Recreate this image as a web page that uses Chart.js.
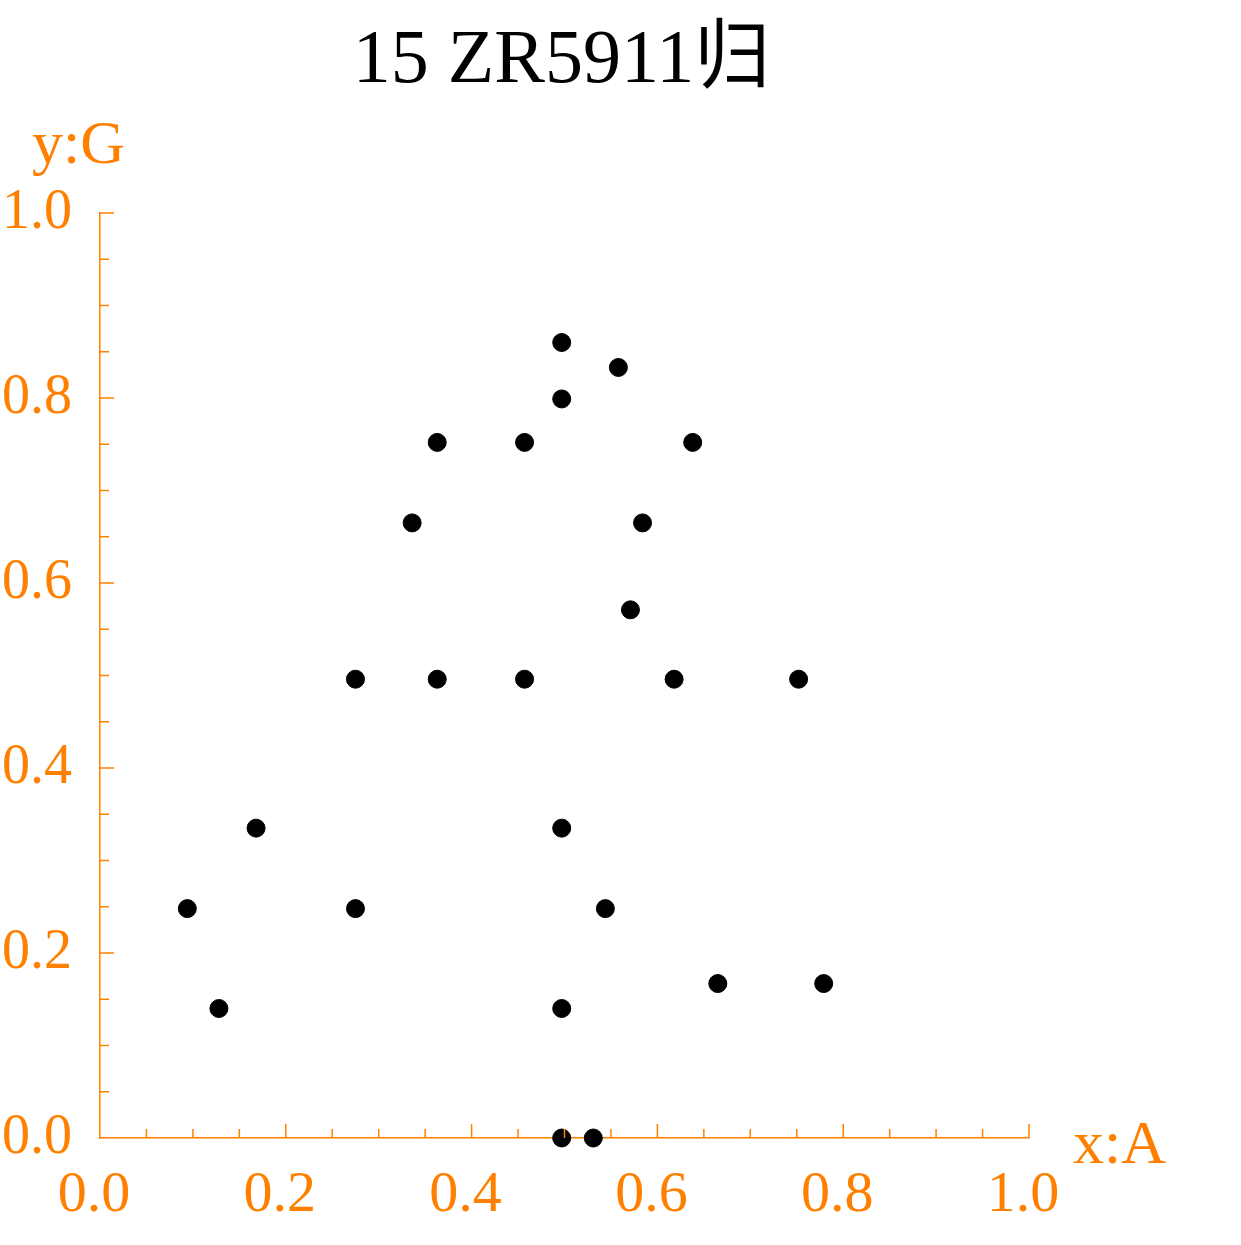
<!DOCTYPE html>
<html>
<head>
<meta charset="utf-8">
<script src="https://cdn.jsdelivr.net/npm/chart.js@4.4.0/dist/chart.umd.min.js"></script>
<style>
  html, body { margin: 0; padding: 0; background: #fff; }
</style>
</head>
<body>
<canvas id="chart" width="1241" height="1245"></canvas>
<script>
const titleText = '15 ZR5911归';
const xLabel = 'x:A';
const yLabel = 'y:G';

// point coordinates
const xValues = [0.497, 0.558, 0.497, 0.457, 0.638, 0.584, 0.363, 0.336, 0.275, 0.363,
                 0.168, 0.571, 0.457, 0.618, 0.752, 0.497, 0.094, 0.275, 0.128, 0.544,
                 0.497, 0.665, 0.779, 0.497, 0.531];
const yValues = [0.860, 0.833, 0.799, 0.752, 0.752, 0.665, 0.752, 0.665, 0.496, 0.496,
                 0.335, 0.571, 0.496, 0.496, 0.496, 0.335, 0.248, 0.248, 0.140, 0.248,
                 0.140, 0.167, 0.167, 0.000, 0.000];

const axisMin = 0;
const axisMax = 1;
const majorStep = 0.2;
const minorStep = 0.05;

const orange = '#ff8000';
const serif = '"Liberation Serif", "Times New Roman", serif';

const points = xValues.map((x, i) => ({ x, y: yValues[i] }));

// inward tick marks, long at 0.2, short at 0.05
const tickMarks = {
    id: 'tickMarks',
    afterDraw(chart) {
        const { ctx, chartArea, scales } = chart;
        const n = Math.round((axisMax - axisMin) / minorStep);
        ctx.save();
        ctx.strokeStyle = orange;
        ctx.lineWidth = 1.5;
        ctx.beginPath();
        for (let i = 1; i <= n; i++) {
            const v = axisMin + i * minorStep;
            const len = i % 4 === 0 ? 14 : 9;
            const px = scales.x.getPixelForValue(v);
            ctx.moveTo(px, chartArea.bottom);
            ctx.lineTo(px, chartArea.bottom - len);
            const py = scales.y.getPixelForValue(v);
            ctx.moveTo(chartArea.left, py);
            ctx.lineTo(chartArea.left + len, py);
        }
        ctx.stroke();
        ctx.restore();
    }
};

const labels = {
    id: 'labels',
    afterDraw(chart) {
        const { ctx, chartArea } = chart;
        ctx.save();
        ctx.textBaseline = 'alphabetic';
        ctx.textAlign = 'center';
        ctx.fillStyle = '#000';
        ctx.font = '76px ' + serif + ', "Noto Sans CJK SC"';
        ctx.fillText(titleText, (chartArea.left + chartArea.right) / 2 - 3, 82);

        ctx.fillStyle = orange;
        ctx.font = '62px ' + serif;
        ctx.textAlign = 'left';
        ctx.fillText(yLabel, chartArea.left - 68, chartArea.top - 50);
        ctx.fillText(xLabel, chartArea.right + 44, chartArea.bottom + 25);
        ctx.restore();
    }
};

new Chart(document.getElementById('chart'), {
    type: 'scatter',
    data: {
        datasets: [{
            data: points,
            backgroundColor: '#000',
            borderColor: '#000',
            pointRadius: 9,
            pointHoverRadius: 9,
            clip: false,
        }],
    },
    options: {
        responsive: false,
        animation: false,
        layout: { padding: { top: 213, right: 212, bottom: 0, left: 0 } },
        plugins: {
            legend: { display: false },
            tooltip: { enabled: false },
        },
        scales: {
            x: {
                type: 'linear',
                min: axisMin,
                max: axisMax,
                z: 1,
                afterFit: (s) => { s.height = 107; },
                grid: { drawOnChartArea: false, drawTicks: false },
                border: { color: orange, width: 1.5 },
                ticks: {
                    stepSize: majorStep,
                    padding: 23,
                    labelOffset: -6,
                    color: orange,
                    font: { family: serif, size: 58 },
                    callback: (v) => v.toFixed(1),
                },
            },
            y: {
                type: 'linear',
                min: axisMin,
                max: axisMax,
                z: 1,
                afterFit: (s) => { s.width = 100; },
                grid: { drawOnChartArea: false, drawTicks: false },
                border: { color: orange, width: 1.5 },
                ticks: {
                    stepSize: majorStep,
                    padding: 28,
                    color: orange,
                    font: { family: serif, size: 56 },
                    callback: (v) => v.toFixed(1),
                },
            },
        },
    },
    plugins: [tickMarks, labels],
});
</script>
</body>
</html>
